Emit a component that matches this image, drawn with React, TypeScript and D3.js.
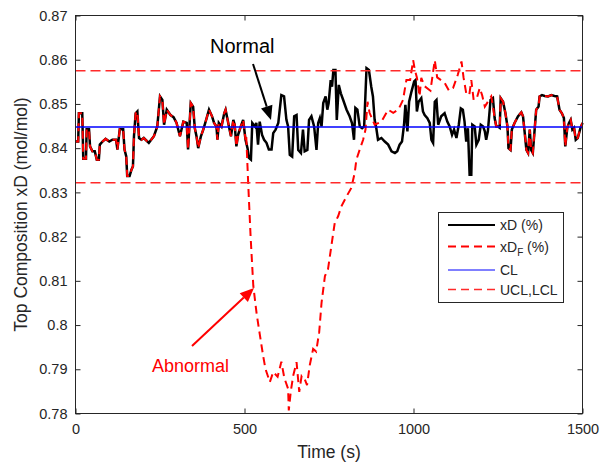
import React, { useEffect, useRef } from "react";
import * as d3 from "d3";

// xD (normal signal): time (s) and composition (mol/mol)
const tXD = [
  0, 8, 10, 20, 23, 31, 33, 40, 43, 50, 57, 63, 69, 72, 80, 89, 100, 109, 120, 124,
  131, 141, 145, 150, 153, 160, 165, 170, 173, 178, 183, 188, 195, 202, 217, 232, 242, 250, 257, 262,
  270, 281, 290, 299, 309, 319, 329, 333, 341, 348, 353, 358, 363, 371, 378, 388, 395, 404, 410, 417,
  420, 424, 432, 440, 444, 450, 455, 460, 467, 471, 476, 481, 489, 496, 503, 509, 513, 519, 523, 531,
  535, 540, 545, 552, 558, 565, 572, 580, 585, 592, 600, 609, 617, 624, 629, 634, 641, 647, 654, 659,
  667, 673, 678, 686, 691, 698, 706, 713, 718, 723, 728, 733, 740, 745, 749, 755, 759, 763, 769, 773,
  779, 785, 792, 802, 811, 818, 824, 828, 834, 841, 848, 854, 861, 868, 875, 880, 885, 890, 895, 905,
  915, 925, 935, 945, 952, 959, 966, 972, 976, 982, 987, 994, 1002, 1006, 1010, 1015, 1023, 1028, 1033, 1041,
  1048, 1053, 1058, 1063, 1068, 1073, 1082, 1092, 1100, 1107, 1114, 1120, 1127, 1134, 1140, 1146, 1151, 1156, 1161, 1166,
  1171, 1174, 1181, 1186, 1193, 1199, 1206, 1211, 1215, 1220, 1228, 1235, 1240, 1245, 1250, 1255, 1258, 1265, 1272, 1278,
  1281, 1287, 1291, 1299, 1309, 1319, 1324, 1329, 1334, 1339, 1344, 1348, 1353, 1358, 1363, 1370, 1373, 1380, 1388, 1398,
  1408, 1417, 1425, 1432, 1439, 1445, 1449, 1455, 1460, 1465, 1470, 1475, 1480, 1486, 1494, 1500,
];
const xD = [
  0.8415, 0.8415, 0.8479, 0.8479, 0.8376, 0.8376, 0.8443, 0.8443, 0.8404, 0.8393, 0.8393, 0.8374, 0.8374, 0.8408, 0.8415, 0.8421, 0.8415, 0.8419, 0.8419, 0.8397,
  0.8443, 0.8443, 0.8397, 0.8382, 0.8337, 0.8337, 0.835, 0.8359, 0.8427, 0.8479, 0.8483, 0.8423, 0.8419, 0.8423, 0.8412, 0.8427, 0.8449, 0.8517, 0.8509, 0.8453,
  0.8487, 0.8475, 0.847, 0.8457, 0.8427, 0.846, 0.8457, 0.8397, 0.8502, 0.8494, 0.8445, 0.8427, 0.84, 0.8427, 0.8442, 0.8468, 0.8487, 0.8472, 0.8457, 0.8449,
  0.8419, 0.8457, 0.8449, 0.8479, 0.8487, 0.8464, 0.8445, 0.8427, 0.8464, 0.8453, 0.8404, 0.843, 0.8449, 0.8464, 0.8419, 0.84, 0.8378, 0.8374, 0.8457, 0.8449,
  0.8457, 0.8408, 0.846, 0.843, 0.8419, 0.8412, 0.8397, 0.8397, 0.8434, 0.8442, 0.8457, 0.852, 0.8517, 0.8464, 0.8449, 0.8385, 0.8381, 0.8472, 0.8475, 0.8396,
  0.8389, 0.8442, 0.8393, 0.8396, 0.8464, 0.8472, 0.8449, 0.8396, 0.8457, 0.8468, 0.8449, 0.8502, 0.8517, 0.8487, 0.8502, 0.8554, 0.8539, 0.8577, 0.8577, 0.8464,
  0.8543, 0.8524, 0.8509, 0.8487, 0.8472, 0.8457, 0.8419, 0.8491, 0.8487, 0.8449, 0.8445, 0.8449, 0.8581, 0.8577, 0.8539, 0.8517, 0.8464, 0.8445, 0.8419, 0.8423,
  0.8415, 0.8408, 0.8393, 0.8389, 0.8393, 0.8408, 0.8415, 0.8453, 0.8498, 0.8438, 0.8505, 0.8528, 0.8551, 0.8554, 0.8483, 0.8505, 0.8513, 0.8483, 0.8475, 0.8468,
  0.8457, 0.8419, 0.8412, 0.8505, 0.8509, 0.8453, 0.8472, 0.8479, 0.846, 0.8449, 0.843, 0.8442, 0.8423, 0.8453, 0.849, 0.8487, 0.846, 0.8415, 0.8445, 0.834,
  0.834, 0.8453, 0.8449, 0.8408, 0.8419, 0.8453, 0.8449, 0.8438, 0.8419, 0.8438, 0.8509, 0.8513, 0.8468, 0.8449, 0.8449, 0.8446, 0.8513, 0.8505, 0.8479, 0.8449,
  0.84, 0.8396, 0.8442, 0.8457, 0.8472, 0.8481, 0.8472, 0.8435, 0.8396, 0.8389, 0.8442, 0.8396, 0.8389, 0.8438, 0.8487, 0.8494, 0.8517, 0.852, 0.8518, 0.8517,
  0.852, 0.8518, 0.8517, 0.8487, 0.8479, 0.8468, 0.8404, 0.8446, 0.8457, 0.8464, 0.8442, 0.8446, 0.8419, 0.8423, 0.8446, 0.8457,
];

// xD_F during the abnormal stretch (follows xD outside it)
const tFault = [
  505, 511, 518, 526, 536, 545, 555, 562, 575, 585, 598, 609, 618, 629, 631, 637, 644, 654, 662, 669,
  677, 685, 693, 703, 712, 721, 728, 738, 747, 757, 767, 777, 787, 802, 816, 826, 831, 841, 851, 858,
  864, 870, 885, 905, 925, 940, 955, 969, 974, 979, 990, 999, 1004, 1010, 1018, 1023, 1033, 1050, 1063, 1070,
  1092, 1105, 1117, 1131, 1142, 1148, 1156, 1165, 1171, 1178, 1188, 1196, 1203, 1211, 1230, 1236,
];
const xDFault = [
  0.843, 0.8319, 0.8201, 0.8089, 0.8025, 0.798, 0.7931, 0.7901, 0.7871, 0.7894, 0.7883, 0.7917, 0.788, 0.7856, 0.7807, 0.785, 0.7885, 0.7916, 0.7849, 0.7885,
  0.788, 0.7864, 0.7909, 0.7946, 0.794, 0.7984, 0.8051, 0.8111, 0.8126, 0.8179, 0.8231, 0.8246, 0.8269, 0.8291, 0.831, 0.8344, 0.8374, 0.8397, 0.8419, 0.8442,
  0.8505, 0.848, 0.8453, 0.846, 0.8487, 0.848, 0.8487, 0.8509, 0.8532, 0.8554, 0.8554, 0.8599, 0.8577, 0.856, 0.8517, 0.8559, 0.854, 0.853, 0.8599, 0.856,
  0.8548, 0.853, 0.8536, 0.8566, 0.8596, 0.856, 0.8524, 0.852, 0.8554, 0.8509, 0.8515, 0.8536, 0.852, 0.8494, 0.8517, 0.849,
];

const CL = 0.8448;
const UCL = 0.8575;
const LCL = 0.8322;
const xTicks = [0, 500, 1000, 1500];
const yTicks = [0.78, 0.79, 0.8, 0.81, 0.82, 0.83, 0.84, 0.85, 0.86, 0.87];

export default function App() {
  const svgRef = useRef<SVGSVGElement>(null);

  useEffect(() => {
    const W = 610;
    const H = 464;
    const L = 75.5, R = 582.5, T = 15.5, B = 413.5;
    const axisColor = "#262626";
    const font = "Arial, 'Liberation Sans', Helvetica, sans-serif";

    const svg = d3.select(svgRef.current).attr("width", W).attr("height", H);
    svg.selectAll("*").remove();
    svg.append("rect").attr("width", W).attr("height", H).attr("fill", "#fff");

    const x = d3.scaleLinear().domain([0, 1500]).range([L, R]);
    const y = d3.scaleLinear().domain([0.78, 0.87]).range([B, T]);

    const black: [number, number][] = tXD.map((t, i) => [t, xD[i]]);
    const fault: [number, number][] = [
      ...black.filter((d) => d[0] < tFault[0]),
      ...tFault.map((t, i) => [t, xDFault[i]] as [number, number]),
      ...black.filter((d) => d[0] > tFault[tFault.length - 1]),
    ];

    const line = d3
      .line<[number, number]>()
      .x((d) => x(d[0]))
      .y((d) => y(d[1]));

    const plot = svg.append("g");

    plot
      .append("path")
      .attr("d", line(black))
      .attr("fill", "none")
      .attr("stroke", "#000")
      .attr("stroke-width", 2.5);

    plot
      .append("path")
      .attr("d", line(fault))
      .attr("fill", "none")
      .attr("stroke", "#ff0000")
      .attr("stroke-width", 2)
      .attr("stroke-dasharray", "8,5");

    plot
      .append("line")
      .attr("x1", x(0)).attr("x2", x(1500))
      .attr("y1", y(CL)).attr("y2", y(CL))
      .attr("stroke", "#0000ff")
      .attr("stroke-width", 1.5);

    [UCL, LCL].forEach((v) => {
      plot
        .append("line")
        .attr("x1", x(0)).attr("x2", x(1500))
        .attr("y1", y(v)).attr("y2", y(v))
        .attr("stroke", "#ff2a2a")
        .attr("stroke-width", 1.5)
        .attr("stroke-dasharray", "10,5");
    });

    // axes box
    svg
      .append("rect")
      .attr("x", L).attr("y", T)
      .attr("width", R - L).attr("height", B - T)
      .attr("fill", "none")
      .attr("stroke", axisColor)
      .attr("stroke-width", 1);

    const xAxis = d3
      .axisBottom(x)
      .tickValues(xTicks)
      .tickSizeInner(-5)
      .tickSizeOuter(0)
      .tickPadding(10)
      .tickFormat((d) => String(d));
    const gx = svg.append("g").attr("transform", `translate(0,${B})`).call(xAxis);
    const xTop = d3.axisTop(x).tickValues(xTicks).tickSizeInner(-5).tickSizeOuter(0).tickFormat(() => "");
    const gxt = svg.append("g").attr("transform", `translate(0,${T})`).call(xTop);

    const yAxis = d3
      .axisLeft(y)
      .tickValues(yTicks)
      .tickSizeInner(-5)
      .tickSizeOuter(0)
      .tickPadding(8)
      .tickFormat((d) => String(+(+d).toFixed(2)));
    const gy = svg.append("g").attr("transform", `translate(${L},0)`).call(yAxis);
    const yRight = d3.axisRight(y).tickValues(yTicks).tickSizeInner(-5).tickSizeOuter(0).tickFormat(() => "");
    const gyr = svg.append("g").attr("transform", `translate(${R},0)`).call(yRight);

    [gx, gxt, gy, gyr].forEach((g) => {
      g.select(".domain").remove();
      g.selectAll("line").attr("stroke", axisColor);
      g.selectAll("text")
        .attr("fill", axisColor)
        .attr("font-size", 14.5)
        .attr("font-family", font);
    });

    svg
      .append("text")
      .attr("x", (L + R) / 2)
      .attr("y", 458)
      .attr("text-anchor", "middle")
      .attr("font-size", 17.5)
      .attr("font-family", font)
      .attr("fill", axisColor)
      .text("Time (s)");

    svg
      .append("text")
      .attr("transform", `translate(27,${(T + B) / 2}) rotate(-90)`)
      .attr("text-anchor", "middle")
      .attr("font-size", 17.5)
      .attr("font-family", font)
      .attr("fill", axisColor)
      .text("Top Composition xD (mol/mol)");

    // annotations
    const arrow = (x1: number, y1: number, x2: number, y2: number, color: string) => {
      const ang = Math.atan2(y2 - y1, x2 - x1);
      const len = 14, half = 6;
      const bx = x2 - len * Math.cos(ang);
      const by = y2 - len * Math.sin(ang);
      svg
        .append("line")
        .attr("x1", x1).attr("y1", y1)
        .attr("x2", bx).attr("y2", by)
        .attr("stroke", color)
        .attr("stroke-width", 2);
      const px = -Math.sin(ang), py = Math.cos(ang);
      svg
        .append("path")
        .attr("d", `M${x2},${y2}L${bx + half * px},${by + half * py}L${bx - half * px},${by - half * py}Z`)
        .attr("fill", color);
    };

    svg
      .append("text")
      .attr("x", 210)
      .attr("y", 53)
      .attr("font-size", 20)
      .attr("font-family", font)
      .attr("fill", "#000")
      .text("Normal");
    arrow(253, 64, 271, 120, "#000");

    svg
      .append("text")
      .attr("x", 152)
      .attr("y", 372)
      .attr("font-size", 18)
      .attr("font-family", font)
      .attr("fill", "#ff0000")
      .text("Abnormal");
    arrow(192, 346, 254, 288, "#ff0000");

    // legend
    const lg = svg.append("g");
    lg.append("rect")
      .attr("x", 438.5).attr("y", 212.5)
      .attr("width", 125).attr("height", 90)
      .attr("fill", "#fff")
      .attr("stroke", axisColor)
      .attr("stroke-width", 1);

    const items = [
      { stroke: "#000", w: 2, dash: null, label: "xD", sub: "", suffix: " (%)" },
      { stroke: "#ff0000", w: 2, dash: "8,5", label: "xD", sub: "F", suffix: " (%)" },
      { stroke: "#0000ff", w: 1, dash: null, label: "CL", sub: "", suffix: "" },
      { stroke: "#ff2a2a", w: 1.5, dash: "8,5", label: "UCL,LCL", sub: "", suffix: "" },
    ];
    const rows = [225, 246.5, 270, 289.5];
    items.forEach((it, i) => {
      const ry = rows[i];
      lg.append("line")
        .attr("x1", 448).attr("x2", 495)
        .attr("y1", ry).attr("y2", ry)
        .attr("stroke", it.stroke)
        .attr("stroke-width", it.w)
        .attr("stroke-dasharray", it.dash);
      const t = lg
        .append("text")
        .attr("x", 500)
        .attr("y", ry + 5)
        .attr("font-size", 14)
        .attr("font-family", font)
        .attr("fill", axisColor);
      t.append("tspan").text(it.label);
      if (it.sub) {
        t.append("tspan").attr("dy", 4).attr("font-size", 10).text(it.sub);
        t.append("tspan").attr("dy", -4).text(it.suffix);
      } else {
        t.append("tspan").text(it.suffix);
      }
    });
  }, []);

  return (
    <div style={{ position: "absolute", left: 0, top: 0 }}>
      <svg ref={svgRef}></svg>
    </div>
  );
}
